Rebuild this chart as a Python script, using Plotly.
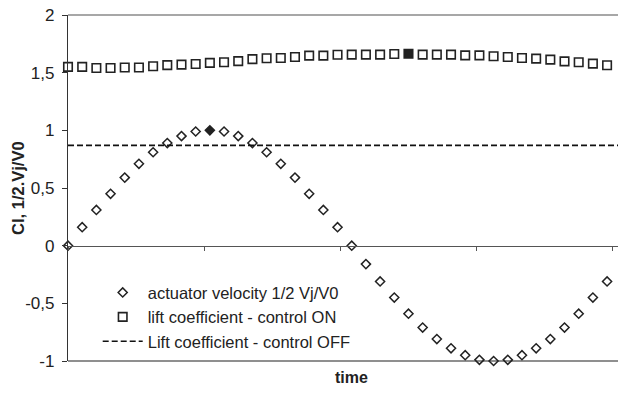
import plotly.graph_objects as go

# sample index along the time axis
time = list(range(40))

# actuator velocity 1/2 Vj/V0 (one full actuation period)
actuator_velocity = [
    0.0, 0.16, 0.31, 0.45, 0.59, 0.71, 0.81, 0.89, 0.95, 0.99,
    1.0, 0.99, 0.95, 0.89, 0.81, 0.71, 0.59, 0.45, 0.31, 0.16,
    0.0, -0.16, -0.31, -0.45, -0.59, -0.71, -0.81, -0.89, -0.95, -0.99,
    -1.0, -0.99, -0.95, -0.89, -0.81, -0.71, -0.59, -0.45, -0.31, -0.16,
]

# lift coefficient with control ON
cl_control_on = [
    1.55, 1.55, 1.54, 1.54, 1.545, 1.545, 1.555, 1.565, 1.57, 1.575,
    1.585, 1.59, 1.60, 1.617, 1.625, 1.627, 1.636, 1.648, 1.648, 1.655,
    1.656, 1.656, 1.656, 1.662, 1.664, 1.656, 1.656, 1.656, 1.65, 1.65,
    1.642, 1.636, 1.627, 1.622, 1.613, 1.598, 1.59, 1.578, 1.564, 1.555,
]

# lift coefficient with control OFF (steady value)
cl_control_off = 0.87

# highlighted samples (drawn filled)
velocity_highlight = 10
cl_on_highlight = 24

y_tick_vals = [-1, -0.5, 0, 0.5, 1, 1.5, 2]
y_tick_text = ["-1", "-0,5", "0", "0,5", "1", "1,5", "2"]

TIME_TICK_STEP = 9.6
FONT = "Arial, Liberation Sans, sans-serif"
INK = "#222222"

fig = go.Figure()

fig.add_trace(go.Scatter(
    x=time, y=actuator_velocity, mode="markers",
    name="actuator velocity 1/2 Vj/V0",
    cliponaxis=False,
    marker=dict(
        symbol=["diamond" if i == velocity_highlight else "diamond-open" for i in range(len(time))],
        size=7, color=INK, line=dict(width=1.5, color=INK),
    ),
))

fig.add_trace(go.Scatter(
    x=time, y=cl_control_on, mode="markers",
    name="lift coefficient - control ON",
    cliponaxis=False,
    marker=dict(
        symbol=["square" if i == cl_on_highlight else "square-open" for i in range(len(time))],
        size=8.5, color=INK, line=dict(width=1.6, color=INK),
    ),
))

fig.add_trace(go.Scatter(
    x=time, y=[cl_control_off] * len(time), mode="lines",
    name="Lift coefficient - control OFF",
    line=dict(color="#111111", width=1.6, dash="6px,3px"),
))

# top and bottom frame lines of the plotting area
for yp, col in ((1, "#8a8a8a"), (0, "#6a6a6a")):
    fig.add_shape(type="line", xref="paper", yref="paper",
                  x0=0, x1=1, y0=yp, y1=yp,
                  line=dict(color=col, width=1.3), layer="below")

fig.update_layout(
    width=618, height=394,
    margin=dict(l=68, r=0, t=15, b=33),
    paper_bgcolor="white", plot_bgcolor="white",
    font=dict(family=FONT, size=16.5, color=INK),
    showlegend=True,
    legend=dict(
        x=0.054, y=0.248, xanchor="left", yanchor="top",
        bgcolor="rgba(0,0,0,0)", borderwidth=0,
        itemwidth=40, font=dict(family=FONT, size=16.5, color=INK),
        tracegroupgap=0,
    ),
    xaxis=dict(
        range=[0, 38.77], showgrid=False, zeroline=False,
        showline=True, linecolor="#555555", linewidth=1.3,
        anchor="free", position=1 / 3,
        ticks="outside", ticklen=4, tickwidth=1.2, tickcolor="#555555",
        tick0=0, dtick=TIME_TICK_STEP, showticklabels=False,
    ),
    yaxis=dict(
        range=[-1, 2], showgrid=False, zeroline=False,
        showline=True, linecolor="#333333", linewidth=1.3,
        ticks="outside", ticklen=5, tickwidth=1.2, tickcolor="#333333",
        tickvals=y_tick_vals, ticktext=y_tick_text,
        tickfont=dict(family=FONT, size=17, color=INK),
        ticklabelstandoff=4,
    ),
    annotations=[
        dict(text="<b>Cl, 1/2.Vj/V0</b>", xref="paper", yref="paper",
             x=-0.091, y=0.5, xanchor="center", yanchor="middle",
             textangle=-90, showarrow=False,
             font=dict(family=FONT, size=16.5, color=INK)),
        dict(text="<b>time</b>", xref="paper", yref="paper",
             x=0.516, y=-0.049, xanchor="center", yanchor="middle",
             showarrow=False,
             font=dict(family=FONT, size=16, color=INK)),
    ],
)

fig.write_html("out.html")
